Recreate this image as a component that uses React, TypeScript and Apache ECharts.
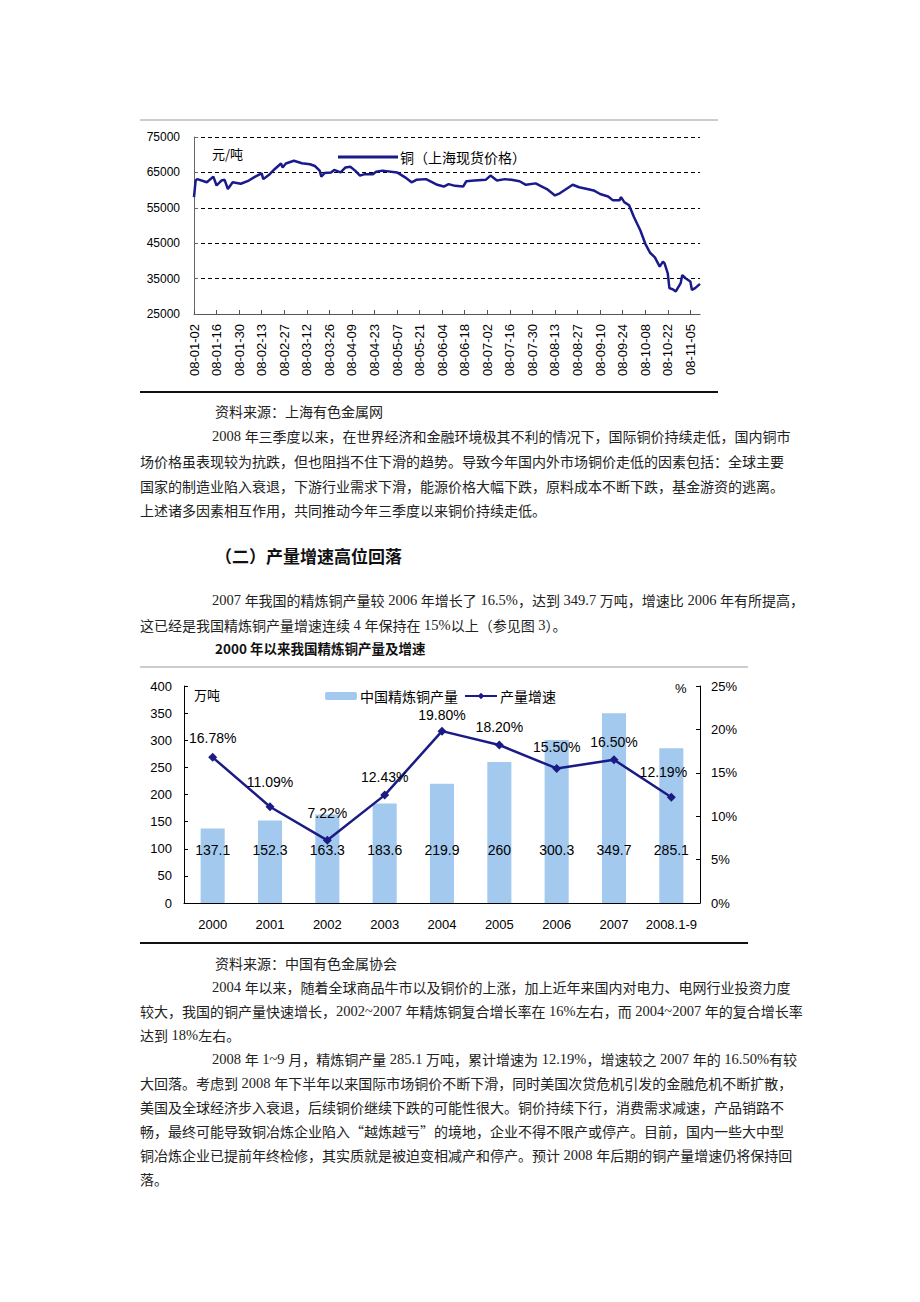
import React, { useEffect, useRef } from "react";
import * as echarts from "echarts";

// ---- Chart 1: Shanghai spot copper price (day offset from 2008-01-02) ----
const priceDays = [0,1,2,8,12,14,17,19,21,24,29,34,38,42,43,47,50,54,55,57,62,67,72,75,78,79,81,85,87,91,94,97,100,103,106,111,113,117,126,131,135,138,144,148,151,155,158,162,167,169,174,181,184,188,193,197,202,206,212,215,219,224,227,231,235,239,244,248,252,257,260,264,265,267,270,273,277,280,283,286,289,291,292,294,295,297,299,302,303,305,308,309,311,314];
const priceValues = [58000,62700,63100,62200,63800,61300,62700,62900,60300,62200,61800,62700,63800,64700,63100,64500,65900,67500,66400,67500,68300,67600,67300,66800,65500,63800,64800,65000,65700,65000,66400,66600,65500,64100,64500,64500,65200,65500,65000,63600,62200,62900,63100,62200,61500,61000,61700,61200,61000,62500,62700,62900,64100,62700,63100,62900,62500,61500,61900,61200,60300,58500,59100,60300,61500,60800,60300,59900,58900,58200,57100,57100,58000,56600,55700,52400,48600,44900,42300,41000,38400,39800,39300,36500,32300,32000,31400,33700,36000,35100,34200,31800,32300,33500];
const priceSeriesName = "铜（上海现货价格）";

// ---- Chart 2: refined copper output & growth ----
const years = ["2000", "2001", "2002", "2003", "2004", "2005", "2006", "2007", "2008.1-9"];
const output = [137.1, 152.3, 163.3, 183.6, 219.9, 260, 300.3, 349.7, 285.1];
const growth = [16.78, 11.09, 7.22, 12.43, 19.8, 18.2, 15.5, 16.5, 12.19];
const growthLabelLift = [3, 8, 11, 2, 0, 2, 5, 1, 9];

// ---- Text ----
const CJK = "'Noto Sans CJK SC', sans-serif";
const LAT = "'Liberation Sans', Arial, sans-serif";
const SERIF = "'Liberation Serif', 'Times New Roman', serif";

const bodyLines: { x: number; y: number; t: string }[] = [
  { x: 215, y: 411, t: "资料来源：上海有色金属网" },
  { x: 212, y: 436, t: "2008 年三季度以来，在世界经济和金融环境极其不利的情况下，国际铜价持续走低，国内铜市" },
  { x: 140, y: 461, t: "场价格虽表现较为抗跌，但也阻挡不住下滑的趋势。导致今年国内外市场铜价走低的因素包括：全球主要" },
  { x: 140, y: 486, t: "国家的制造业陷入衰退，下游行业需求下滑，能源价格大幅下跌，原料成本不断下跌，基金游资的逃离。" },
  { x: 140, y: 510, t: "上述诸多因素相互作用，共同推动今年三季度以来铜价持续走低。" },
  { x: 212, y: 600, t: "2007 年我国的精炼铜产量较 2006 年增长了 16.5%，达到 349.7 万吨，增速比 2006 年有所提高，" },
  { x: 140, y: 625, t: "这已经是我国精炼铜产量增速连续 4 年保持在 15%以上（参见图 3）。" },
  { x: 215, y: 963, t: "资料来源：中国有色金属协会" },
  { x: 212, y: 987, t: "2004 年以来，随着全球商品牛市以及铜价的上涨，加上近年来国内对电力、电网行业投资力度" },
  { x: 140, y: 1011, t: "较大，我国的铜产量快速增长，2002~2007 年精炼铜复合增长率在 16%左右，而 2004~2007 年的复合增长率" },
  { x: 140, y: 1035, t: "达到 18%左右。" },
  { x: 212, y: 1059, t: "2008 年 1~9 月，精炼铜产量 285.1 万吨，累计增速为 12.19%，增速较之 2007 年的 16.50%有较" },
  { x: 140, y: 1083, t: "大回落。考虑到 2008 年下半年以来国际市场铜价不断下滑，同时美国次贷危机引发的金融危机不断扩散，" },
  { x: 140, y: 1107, t: "美国及全球经济步入衰退，后续铜价继续下跌的可能性很大。铜价持续下行，消费需求减速，产品销路不" },
  { x: 140, y: 1131, t: "畅，最终可能导致铜冶炼企业陷入“越炼越亏”的境地，企业不得不限产或停产。目前，国内一些大中型" },
  { x: 140, y: 1155, t: "铜冶炼企业已提前年终检修，其实质就是被迫变相减产和停产。预计 2008 年后期的铜产量增速仍将保持回" },
  { x: 140, y: 1179, t: "落。" },
];

function dayToLabel(v: number): string {
  if (Math.round(v) % 14 !== 0) return "";
  const d = new Date(Date.UTC(2008, 0, 2) + Math.round(v) * 86400000);
  const mm = String(d.getUTCMonth() + 1).padStart(2, "0");
  const dd = String(d.getUTCDate()).padStart(2, "0");
  return `08-${mm}-${dd}`;
}

function toRich(s: string): string {
  return s.replace(/[\x20-\x7e]+/g, (m) => `{n|${m}}`);
}

export default function App() {
  const ref = useRef<HTMLDivElement>(null);
  useEffect(() => {
    if (!ref.current) return;
    const chart = echarts.init(ref.current, undefined, { renderer: "svg" });

    const textEls: any[] = bodyLines.map((l) => ({
      type: "text",
      x: l.x,
      y: l.y,
      style: {
        text: toRich(l.t),
        fontSize: 14,
        fontFamily: CJK,
        fill: "#222",
        verticalAlign: "middle",
        rich: { n: { fontSize: 14.5, fontFamily: SERIF, fill: "#222" } },
      },
    }));

    const graphic: any[] = [
      { type: "line", shape: { x1: 140, y1: 120, x2: 718, y2: 120 }, style: { stroke: "#9a9a9a", lineWidth: 1 } },
      { type: "line", shape: { x1: 140, y1: 392, x2: 718, y2: 392 }, style: { stroke: "#111", lineWidth: 2 } },
      { type: "line", shape: { x1: 140, y1: 667, x2: 748, y2: 667 }, style: { stroke: "#9a9a9a", lineWidth: 1 } },
      { type: "line", shape: { x1: 140, y1: 943, x2: 748, y2: 943 }, style: { stroke: "#111", lineWidth: 2 } },
      { type: "text", x: 212, y: 153, style: { text: "元/吨", fontSize: 13, fontFamily: CJK, fill: "#000", verticalAlign: "middle" } },
      { type: "text", x: 194, y: 694, style: { text: "万吨", fontSize: 13, fontFamily: CJK, fill: "#000", verticalAlign: "middle" } },
      { type: "text", x: 675, y: 688, style: { text: "%", fontSize: 13, fontFamily: LAT, fill: "#000", verticalAlign: "middle" } },
      { type: "text", x: 215, y: 555, style: { text: "（二）产量增速高位回落", fontSize: 17, fontWeight: "bold", fontFamily: CJK, fill: "#111", verticalAlign: "middle" } },
      { type: "text", x: 215, y: 648, style: { text: "2000 年以来我国精炼铜产量及增速", fontSize: 13.5, fontWeight: "bold", fontFamily: CJK, fill: "#111", verticalAlign: "middle" } },
      ...textEls,
    ];

    chart.setOption({
      animation: false,
      backgroundColor: "#fff",
      textStyle: { fontFamily: LAT },
      grid: [
        { left: 194, top: 137, width: 506, height: 177, containLabel: false },
        { left: 184, top: 686, width: 516, height: 217, containLabel: false },
      ],
      legend: [
        {
          data: [priceSeriesName],
          left: 333,
          top: 145,
          icon: "rect",
          itemWidth: 60,
          itemHeight: 3,
          itemGap: 4,
          itemStyle: { color: "#1a1a8c" },
          textStyle: { fontSize: 14, fontFamily: CJK, color: "#000", padding: [0, 0, 0, -3] },
        },
        {
          data: ["中国精炼铜产量", "产量增速"],
          left: 320,
          top: 684,
          itemWidth: 32,
          itemHeight: 8,
          itemGap: 6,
          textStyle: { fontSize: 14, fontFamily: CJK, color: "#000", padding: [0, 0, 0, -2] },
        },
      ],
      xAxis: [
        {
          gridIndex: 0,
          type: "value",
          min: 0,
          max: 314,
          interval: 14,
          splitLine: { show: false },
          axisLine: { lineStyle: { color: "#555", width: 1 } },
          axisTick: { inside: true, length: 4, lineStyle: { color: "#555" } },
          axisLabel: { rotate: 90, fontSize: 13, color: "#000", margin: 10, formatter: (v: number) => dayToLabel(v), showMaxLabel: false },
        },
        {
          gridIndex: 1,
          type: "category",
          data: years,
          boundaryGap: true,
          axisLine: { lineStyle: { color: "#000", width: 1 } },
          axisTick: { inside: true, length: 4, interval: 0, lineStyle: { color: "#000" } },
          axisLabel: { fontSize: 13, color: "#000", margin: 15, interval: 0 },
        },
      ],
      yAxis: [
        {
          gridIndex: 0,
          type: "value",
          min: 25000,
          max: 75000,
          interval: 10000,
          axisLine: { show: true, lineStyle: { color: "#666" } },
          axisTick: { show: true, inside: true, length: 4, lineStyle: { color: "#666" } },
          axisLabel: { fontSize: 12, color: "#000", margin: 14, formatter: (v: number) => String(v) },
          splitLine: { show: true, lineStyle: { color: "#000", type: [4, 3], width: 1 } },
        },
        {
          gridIndex: 1,
          type: "value",
          min: 0,
          max: 400,
          interval: 50,
          axisLine: { show: true, lineStyle: { color: "#000" } },
          axisTick: { show: true, inside: true, length: 4, lineStyle: { color: "#000" } },
          axisLabel: { fontSize: 13, color: "#000", margin: 12 },
          splitLine: { show: false },
        },
        {
          gridIndex: 1,
          type: "value",
          position: "right",
          min: 0,
          max: 25,
          interval: 5,
          axisLine: { show: true, lineStyle: { color: "#000" } },
          axisTick: { show: true, inside: true, length: 4, lineStyle: { color: "#000" } },
          axisLabel: { fontSize: 13, color: "#000", margin: 11, formatter: "{value}%" },
          splitLine: { show: false },
        },
      ],
      series: [
        {
          name: priceSeriesName,
          type: "line",
          xAxisIndex: 0,
          yAxisIndex: 0,
          data: priceDays.map((d, i) => [d, priceValues[i]]),
          showSymbol: false,
          symbol: "none",
          color: "#1a1a8c",
          lineStyle: { color: "#1a1a8c", width: 2.5 },
        },
        {
          name: "中国精炼铜产量",
          type: "bar",
          xAxisIndex: 1,
          yAxisIndex: 1,
          data: output,
          barWidth: "42%",
          itemStyle: { color: "#a3c9ef" },
          label: { show: true, position: "insideBottom", distance: 46, fontSize: 14, color: "#000" },
        },
        {
          name: "产量增速",
          type: "line",
          xAxisIndex: 1,
          yAxisIndex: 2,
          data: growth.map((g, i) => ({
            value: g,
            label: { offset: [i === 8 ? -8 : 0, -growthLabelLift[i]] },
          })),
          symbol: "diamond",
          symbolSize: 9,
          color: "#1b1b85",
          lineStyle: { color: "#1b1b85", width: 2.5 },
          label: {
            show: true,
            position: "top",
            distance: 5,
            fontSize: 14,
            color: "#000",
            formatter: (p: any) => Number(p.value).toFixed(2) + "%",
          },
        },
      ],
      graphic,
    });
    return () => chart.dispose();
  }, []);

  return <div ref={ref} style={{ position: "absolute", left: 0, top: 0, width: 920, height: 1302, background: "#fff" }} />;
}
